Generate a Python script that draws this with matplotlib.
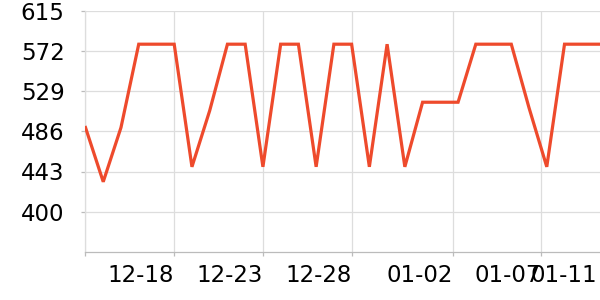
import matplotlib
matplotlib.use('Agg')
import matplotlib.pyplot as plt
import numpy as np

# daily values, 12-13 .. 01-11
values = [490, 432, 490, 579, 579, 579, 448, 508, 579, 579,
          448, 579, 579, 448, 579, 579, 448, 579, 448, 517,
          517, 517, 579, 579, 579, 511, 448, 579, 579, 579]
y_ticks = [400, 443, 486, 529, 572, 615]
x_tick_pos = [0, 5, 10, 15, 20.7, 25.7, 28.85]
x_tick_labels = ['', '12-18', '12-23', '12-28', '01-02', '01-07', '01-11']

days = np.arange(len(values))

fig = plt.figure(figsize=(6, 3), dpi=100)
ax = fig.add_axes([0.1425, 0.16, 0.8575, 0.805])

ax.plot(days, values, color='#ee4a2c', linewidth=2.3, solid_joinstyle='miter', zorder=3)

ax.set_xlim(0, 29)
ax.set_ylim(357, 615)
ax.set_yticks(y_ticks)
ax.set_yticklabels([str(v) for v in y_ticks])
ax.set_xticks(x_tick_pos)
ax.set_xticklabels(x_tick_labels, ha='right')

ax.grid(True, color='#dddddd', linewidth=0.9)
ax.set_axisbelow(True)
ax.xaxis.get_major_ticks()[-1].gridline.set_visible(False)
ax.xaxis.get_major_ticks()[-1].tick1line.set_visible(False)

for s in ['top', 'right']:
    ax.spines[s].set_visible(False)
ax.spines['left'].set_color('#dddddd')
ax.spines['bottom'].set_color('#bbbbbb')
ax.spines['left'].set_linewidth(0.9)
ax.spines['bottom'].set_linewidth(0.9)

ax.tick_params(axis='both', labelsize=16.5, colors='#bbbbbb', labelcolor='black', length=3, width=0.9)
ax.tick_params(axis='y', pad=12)
ax.tick_params(axis='x', pad=6)

fig.savefig('out.png', dpi=100)
